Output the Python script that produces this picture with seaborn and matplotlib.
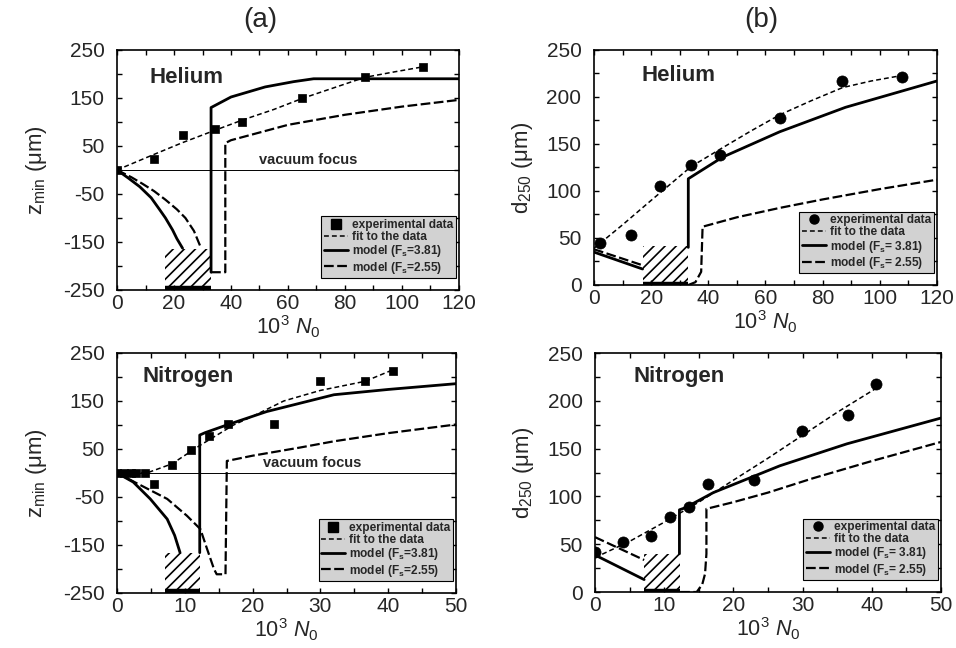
import numpy as np
import pandas as pd
import matplotlib
matplotlib.use("Agg")
import matplotlib.pyplot as plt
from matplotlib.lines import Line2D
import seaborn as sns

# ---------------- data ----------------
# Helium, z_min
he_z_exp_x = [0, 13, 23, 34.5, 44, 65, 87, 107.5]
he_z_exp_y = [0, 23, 73, 85, 99, 149, 193, 215]
he_z_fit_x = [0, 12, 23, 34.5, 44, 55, 65, 76, 87, 97, 107.5]
he_z_fit_y = [0, 30, 57, 83, 104, 126, 149, 171, 193, 204, 215]
he_z_m381_a_x = [0, 4, 8, 12, 15, 17, 19.5, 21, 23]
he_z_m381_a_y = [0, -17, -35, -58, -83, -100, -125, -143, -163]
he_z_m381_b_x = [33, 33, 40, 52, 62, 69, 120]
he_z_m381_b_y = [-213, 130, 152, 173, 184, 190, 190]
he_z_m255_a_x = [0, 5, 9, 13, 17, 21, 24, 27, 29.5]
he_z_m255_a_y = [0, -15, -29, -44, -62, -82, -100, -127, -163]
he_z_m255_b_x = [33, 38, 38, 40, 60, 80, 100, 120]
he_z_m255_b_y = [-213, -213, 56, 62, 94, 115, 132, 146]

# Helium, d_250
he_d_exp_x = [2.2, 13, 23, 34, 44, 65, 86.7, 107.7]
he_d_exp_y = [45, 53, 105, 128, 138, 178, 217, 221]
he_d_fit_x = [0, 10, 20, 34, 45, 55, 65, 76, 87, 97, 108]
he_d_fit_y = [39, 64, 90, 126, 146, 164, 181, 196, 210, 217, 223]
he_d_m381_a_x = [0, 17]
he_d_m381_a_y = [35, 17]
he_d_m381_b_x = [33, 33, 45, 65, 88, 120]
he_d_m381_b_y = [40, 113, 136, 163, 189, 217]
he_d_m255_a_x = [0, 17]
he_d_m255_a_y = [38, 21]
he_d_m255_b_x = [33, 35.5, 37.5, 38, 50, 65, 80, 100, 120]
he_d_m255_b_y = [0, 3, 14, 62, 72, 82, 91, 102, 112]

# Nitrogen, z_min
n2_z_exp_x = [0, 1, 2, 2.8, 4.1, 5.4, 8.1, 10.9, 13.5, 16.4, 23.1, 29.9, 36.6, 40.7]
n2_z_exp_y = [0, 0, 0, 0, 0, -22, 17, 47, 77, 101, 103, 191, 191, 213]
n2_z_fit_x = [0, 4.4, 8.1, 12.3, 17.2, 20, 24.6, 30, 36.6, 40.7]
n2_z_fit_y = [0, 0, 19, 58, 100, 118, 150, 172, 191, 215]
n2_z_m381_a_x = [0, 2.4, 4.9, 7.4, 8.5, 9.3]
n2_z_m381_a_y = [0, -19, -54, -96, -130, -166]
n2_z_m381_b_x = [12.2, 12.2, 13, 16.2, 22.1, 32, 40, 50]
n2_z_m381_b_y = [-166, 79, 84, 100, 128, 163, 174, 186]
n2_z_m255_x = [0, 3, 7.4, 10.3, 12.3, 13.3, 14.3, 14.7, 16, 16.2, 20, 27, 32, 40, 50]
n2_z_m255_y = [0, -22, -54, -89, -117, -159, -200, -211, -211, 25, 36, 53, 66, 83, 101]

# Nitrogen, d_250
n2_d_exp_x = [0, 4, 8.1, 10.8, 13.6, 16.3, 23, 29.9, 36.6, 40.6]
n2_d_exp_y = [42, 52, 59, 78.5, 89, 113, 117, 168, 185, 217.6]
n2_d_fit_x = [0, 5, 10, 15, 20, 25, 30, 35, 40.6]
n2_d_fit_y = [36, 53, 73, 94, 117, 140, 164, 188, 213]
n2_d_m381_a_x = [0, 7.1]
n2_d_m381_a_y = [38.7, 13]
n2_d_m381_b_x = [12.2, 12.2, 13, 17.1, 26.7, 36.4, 50]
n2_d_m381_b_y = [40, 86, 88, 104, 132, 155, 182]
n2_d_m255_a_x = [0, 7.1]
n2_d_m255_a_y = [57.4, 33.5]
n2_d_m255_b_x = [12.3, 14.7, 15.5, 15.9, 16.1, 16.1, 20, 25, 31.5, 40, 50]
n2_d_m255_b_y = [0, 0, 8, 19, 40, 87, 94, 104, 119, 137, 157]

# shaded (hatched) intervals where no focus is found, and their axis bars
he_gap = [17, 33]
n2_gap = [7.1, 12.3]
he_z_hatch_y = [-250, -165]
he_d_hatch_y = [0, 41]
n2_z_hatch_y = [-250, -166]
n2_d_hatch_y = [0, 40]

# ---------------- style ----------------
sns.set_theme(style="ticks")
plt.rcParams["font.family"] = ["Liberation Sans", "DejaVu Sans"]
plt.rcParams["mathtext.fontset"] = "custom"
plt.rcParams["mathtext.rm"] = "Liberation Sans"
plt.rcParams["mathtext.it"] = "Liberation Sans:italic"
plt.rcParams["mathtext.bf"] = "Liberation Sans:bold"
plt.rcParams["axes.unicode_minus"] = False
plt.rcParams["lines.scale_dashes"] = False
plt.rcParams["hatch.linewidth"] = 1.2

FIT_LS = (0, (3.5, 2.2))
M255_LS = (0, (7, 2.5))
LW_SOLID = 2.0
LW_FIT = 1.1
LW_M255 = 1.6

fig = plt.figure(figsize=(9.56, 6.48), dpi=100)
ax_he_z = fig.add_axes([0.1224, 0.5525, 0.3577, 0.3704])
ax_he_d = fig.add_axes([0.6213, 0.5602, 0.3588, 0.3627])
ax_n2_z = fig.add_axes([0.1224, 0.0849, 0.3546, 0.3704])
ax_n2_d = fig.add_axes([0.6224, 0.0864, 0.3619, 0.3688])


def line(ax, x, y, ls, lw):
    sns.lineplot(x=x, y=y, ax=ax, sort=False, estimator=None, color="black",
                 linestyle=ls, linewidth=lw, legend=False, zorder=3)


def hatch(ax, gap, yr, bar_y):
    ax.fill_between(gap, yr[0], yr[1], facecolor="none", edgecolor="black",
                    hatch="///", linewidth=0, zorder=2)
    ax.plot(gap, [bar_y, bar_y], color="black", linewidth=3.2,
            solid_capstyle="butt", zorder=4)


def frame(ax, xmax, xstep, ylim, ystep, ylabel, labelpad):
    ax.set_xlim(0, xmax)
    ax.set_ylim(*ylim)
    ax.set_xticks(np.arange(0, xmax + 0.1, xstep))
    ax.set_xticks(np.arange(0, xmax + 0.1, xstep / 2), minor=True)
    ax.set_yticks(np.arange(ylim[0], ylim[1] + 0.1, ystep))
    ax.set_yticks(np.arange(ylim[0], ylim[1] + 0.1, ystep / 2), minor=True)
    ax.tick_params(which="both", direction="in", top=True, right=True,
                   length=3.5, width=1.0, color="black")
    ax.tick_params(axis="x", which="major", labelsize=15, pad=3)
    ax.tick_params(axis="y", which="major", labelsize=15, pad=9)
    for s in ax.spines.values():
        s.set_linewidth(1.2)
        s.set_color("black")
    ax.set_xlabel(r"10$^{3}$ $\mathit{N_0}$", fontsize=15.5, labelpad=0)
    ax.set_ylabel(ylabel, fontsize=16, labelpad=labelpad)
    ax.grid(False)


def legend(ax, marker, f1, f2):
    handles = [
        Line2D([], [], color="black", marker=marker, linestyle="none", markersize=6.5),
        Line2D([], [], color="black", linestyle=FIT_LS, linewidth=LW_FIT),
        Line2D([], [], color="black", linestyle="-", linewidth=LW_SOLID),
        Line2D([], [], color="black", linestyle=M255_LS, linewidth=LW_M255),
    ]
    labels = ["experimental data", "fit to the data",
              "model (F$\\mathregular{_s}$=" + f1 + ")",
              "model (F$\\mathregular{_s}$=" + f2 + ")"]
    leg = ax.legend(handles, labels, loc="lower right", bbox_to_anchor=(0.99, 0.05),
                    prop={"weight": "bold", "size": 8.6}, frameon=True, fancybox=False,
                    framealpha=1, facecolor="#d2d2d2", edgecolor="black",
                    handlelength=2.0, handletextpad=0.35, labelspacing=0.02,
                    borderpad=0.2, borderaxespad=0)
    leg.get_frame().set_linewidth(0.8)


# ---- (a) Helium, z_min ----
ax = ax_he_z
ax.axhline(0, color="black", linewidth=0.7, zorder=1)
hatch(ax, he_gap, he_z_hatch_y, -245)
line(ax, he_z_fit_x, he_z_fit_y, FIT_LS, LW_FIT)
line(ax, he_z_m381_a_x, he_z_m381_a_y, "-", LW_SOLID)
line(ax, he_z_m381_b_x, he_z_m381_b_y, "-", LW_SOLID)
line(ax, he_z_m255_a_x, he_z_m255_a_y, M255_LS, LW_M255)
line(ax, he_z_m255_b_x, he_z_m255_b_y, M255_LS, LW_M255)
sns.scatterplot(x=he_z_exp_x, y=he_z_exp_y, ax=ax, marker="s", s=36, color="black",
                edgecolor="black", linewidth=0.5, legend=False, zorder=5)
ax.text(50, 20, "vacuum focus", fontsize=10.5, fontweight="bold", va="center", ha="left")
ax.text(0.095, 0.885, "Helium", transform=ax.transAxes, fontsize=16,
        fontweight="bold", va="center")
frame(ax, 120, 20, (-250, 250), 100, "z$\\mathregular{_{min}}$ (μm)", 10)
legend(ax, "s", "3.81", "2.55")

# ---- (b) Helium, d_250 ----
ax = ax_he_d
hatch(ax, he_gap, he_d_hatch_y, 1)
line(ax, he_d_fit_x, he_d_fit_y, FIT_LS, LW_FIT)
line(ax, he_d_m381_a_x, he_d_m381_a_y, "-", LW_SOLID)
line(ax, he_d_m381_b_x, he_d_m381_b_y, "-", LW_SOLID)
line(ax, he_d_m255_a_x, he_d_m255_a_y, M255_LS, LW_M255)
line(ax, he_d_m255_b_x, he_d_m255_b_y, M255_LS, LW_M255)
sns.scatterplot(x=he_d_exp_x, y=he_d_exp_y, ax=ax, marker="o", s=64, color="black",
                edgecolor="black", linewidth=0.5, legend=False, zorder=5)
ax.text(0.14, 0.89, "Helium", transform=ax.transAxes, fontsize=16,
        fontweight="bold", va="center")
frame(ax, 120, 20, (0, 250), 50, "d$\\mathregular{_{250}}$ (μm)", 8)
legend(ax, "o", " 3.81", " 2.55")

# ---- (a) Nitrogen, z_min ----
ax = ax_n2_z
ax.axhline(0, color="black", linewidth=0.7, zorder=1)
hatch(ax, n2_gap, n2_z_hatch_y, -245)
line(ax, n2_z_fit_x, n2_z_fit_y, FIT_LS, LW_FIT)
line(ax, n2_z_m381_a_x, n2_z_m381_a_y, "-", LW_SOLID)
line(ax, n2_z_m381_b_x, n2_z_m381_b_y, "-", LW_SOLID)
line(ax, n2_z_m255_x, n2_z_m255_y, M255_LS, LW_M255)
sns.scatterplot(x=n2_z_exp_x, y=n2_z_exp_y, ax=ax, marker="s", s=36, color="black",
                edgecolor="black", linewidth=0.5, legend=False, zorder=5)
ax.text(21.6, 20, "vacuum focus", fontsize=10.5, fontweight="bold", va="center", ha="left")
ax.text(0.074, 0.9, "Nitrogen", transform=ax.transAxes, fontsize=16,
        fontweight="bold", va="center")
frame(ax, 50, 10, (-250, 250), 100, "z$\\mathregular{_{min}}$ (μm)", 10)
legend(ax, "s", "3.81", "2.55")

# ---- (b) Nitrogen, d_250 ----
ax = ax_n2_d
hatch(ax, n2_gap, n2_d_hatch_y, 1)
line(ax, n2_d_fit_x, n2_d_fit_y, FIT_LS, LW_FIT)
line(ax, n2_d_m381_a_x, n2_d_m381_a_y, "-", LW_SOLID)
line(ax, n2_d_m381_b_x, n2_d_m381_b_y, "-", LW_SOLID)
line(ax, n2_d_m255_a_x, n2_d_m255_a_y, M255_LS, LW_M255)
line(ax, n2_d_m255_b_x, n2_d_m255_b_y, M255_LS, LW_M255)
sns.scatterplot(x=n2_d_exp_x, y=n2_d_exp_y, ax=ax, marker="o", s=64, color="black",
                edgecolor="black", linewidth=0.5, legend=False, zorder=5)
ax.text(0.112, 0.9, "Nitrogen", transform=ax.transAxes, fontsize=16,
        fontweight="bold", va="center")
frame(ax, 50, 10, (0, 250), 50, "d$\\mathregular{_{250}}$ (μm)", 8)
legend(ax, "o", " 3.81", " 2.55")

fig.text(0.272, 0.969, "(a)", fontsize=20, ha="center", va="center")
fig.text(0.796, 0.969, "(b)", fontsize=20, ha="center", va="center")

fig.savefig("out.png", dpi=100, facecolor="white")
